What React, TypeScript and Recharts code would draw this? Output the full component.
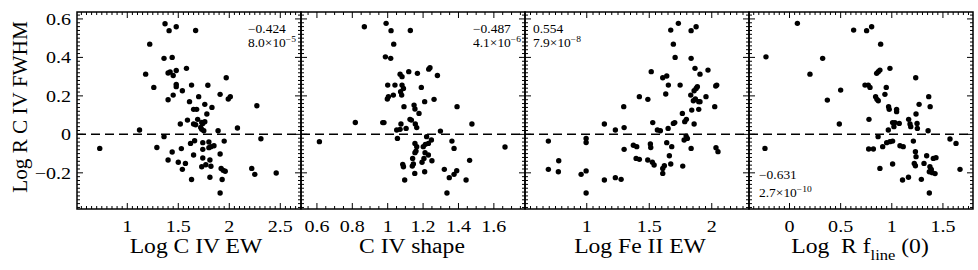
import { ScatterChart, Scatter, XAxis, YAxis, ReferenceLine, ReferenceArea } from 'recharts';

const FONT = '"Liberation Serif", "Times New Roman", serif';
const STRETCH = 1.18;

// shared y axis (Log R C IV FWHM)
const yMajor = [-0.2, 0, 0.2, 0.4, 0.6];
const yDomain: [number, number] = [-0.388, 0.636];

// x axis major ticks per panel
const ewTicks = [1, 1.5, 2, 2.5];
const shapeTicks = [0.6, 0.8, 1, 1.2, 1.4, 1.6];
const feTicks = [1, 1.5, 2];
const flineTicks = [0, 0.5, 1, 1.5];

// [x, log R C IV FWHM]
const ewPoints: [number, number][] = [
  [0.73, -0.073], [1.12, 0.023], [1.29, -0.068], [1.18, 0.313], [1.22, 0.469], [1.26, 0.244],
  [1.37, 0.575], [1.41, 0.539], [1.48, 0.559], [1.67, 0.54], [1.36, 0.395], [1.44, 0.4],
  [1.4, 0.319], [1.42, 0.324], [1.45, 0.306], [1.48, 0.332], [1.58, 0.343], [1.48, 0.26],
  [1.48, 0.248], [1.45, 0.204], [1.4, 0.18], [1.54, 0.227], [1.63, 0.256], [1.7, 0.196],
  [1.79, 0.255], [1.61, 0.17], [1.76, 0.156], [1.83, 0.14], [1.91, 0.208], [1.97, 0.294],
  [1.99, 0.184], [2.01, 0.196], [1.65, 0.13], [1.68, 0.13], [1.78, 0.106], [1.52, 0.054],
  [1.59, 0.074], [1.65, 0.054], [1.67, 0.05], [1.69, 0.078], [1.73, 0.062], [1.74, 0.057],
  [1.76, 0.066], [1.72, 0.036], [1.73, 0.026], [1.75, 0.019], [1.89, 0.019], [2.08, 0.033],
  [2.27, 0.149], [1.36, -0.012], [1.62, -0.047], [1.66, -0.033], [1.74, -0.043], [1.8, -0.04],
  [1.82, -0.064], [1.85, -0.059], [1.8, -0.069], [1.95, -0.035], [1.53, -0.074], [1.74, -0.078],
  [1.91, -0.102], [1.65, -0.107], [1.44, -0.092], [1.74, -0.123], [1.81, -0.133], [1.4, -0.133],
  [1.5, -0.145], [1.57, -0.151], [1.54, -0.182], [1.73, -0.168], [1.77, -0.158], [1.82, -0.166],
  [1.92, -0.177], [1.94, -0.187], [1.96, -0.192], [1.63, -0.235], [1.81, -0.223], [1.93, -0.235],
  [1.91, -0.305], [2.22, -0.177], [2.25, -0.208], [2.46, -0.201], [2.31, -0.023],
];

const shapePoints: [number, number][] = [
  [0.614, -0.038], [0.817, 0.062], [0.868, 0.559], [0.991, 0.577], [1.019, 0.539], [1.034, 0.469],
  [1.128, 0.54], [0.987, 0.403], [1.017, 0.395], [1.07, 0.313], [1.081, 0.3], [1.119, 0.326],
  [1.168, 0.317], [1.232, 0.339], [1.239, 0.346], [1.281, 0.306], [1.0, 0.256], [1.041, 0.256],
  [1.081, 0.256], [1.089, 0.239], [1.073, 0.222], [1.079, 0.204], [1.032, 0.204], [0.998, 0.184],
  [1.004, 0.196], [1.19, 0.244], [1.209, 0.17], [1.262, 0.182], [1.092, 0.144], [1.149, 0.152],
  [1.154, 0.132], [1.177, 0.109], [1.126, 0.078], [1.134, 0.074], [1.156, 0.054], [1.164, 0.035],
  [0.972, 0.061], [0.979, 0.061], [1.075, 0.054], [1.104, 0.031], [1.051, 0.023], [1.07, 0.026],
  [1.055, -0.021], [1.22, -0.012], [1.247, -0.029], [1.298, 0.017], [1.154, -0.047], [1.164, -0.064],
  [1.201, -0.064], [1.213, -0.052], [1.23, -0.047], [1.16, -0.087], [1.154, -0.095], [1.211, -0.095],
  [1.141, -0.125], [1.205, -0.125], [1.194, -0.145], [1.23, -0.107], [1.25, -0.137], [1.085, -0.156],
  [1.089, -0.168], [1.139, -0.165], [1.145, -0.154], [1.153, -0.203], [1.209, -0.194], [1.096, -0.237],
  [1.32, -0.182], [1.348, -0.225], [1.375, -0.208], [1.39, -0.189], [1.443, -0.237], [1.335, -0.305],
  [1.363, -0.035], [1.375, -0.073], [1.463, -0.135], [1.392, 0.144], [1.476, 0.054], [1.663, -0.066],
];

const fePoints: [number, number][] = [
  [0.693, -0.035], [0.693, -0.182], [0.776, -0.137], [0.773, -0.194], [0.955, -0.208], [0.995, -0.19],
  [0.995, -0.305], [0.995, -0.021], [0.995, -0.042], [1.141, 0.054], [1.141, -0.237], [1.229, 0.023],
  [1.229, -0.225], [1.275, -0.234], [1.296, 0.144], [1.299, 0.035], [1.299, -0.078], [1.373, -0.057],
  [1.4, -0.064], [1.395, -0.125], [1.421, 0.196], [1.516, 0.326], [1.489, 0.182], [1.528, 0.061],
  [1.509, -0.05], [1.512, -0.068], [1.488, -0.133], [1.525, -0.145], [1.539, -0.159], [1.565, 0.023],
  [1.589, 0.019], [1.421, -0.13], [1.608, -0.177], [1.608, -0.203], [1.621, -0.163], [1.64, -0.043],
  [1.651, 0.031], [1.661, -0.111], [1.672, -0.154], [1.68, -0.064], [1.693, 0.057], [1.704, 0.061],
  [1.608, 0.294], [1.64, 0.303], [1.653, 0.256], [1.632, 0.21], [1.672, 0.542], [1.733, 0.577],
  [1.693, 0.469], [1.707, 0.4], [1.747, 0.256], [1.765, 0.109], [1.784, 0.066], [1.768, -0.165],
  [1.795, -0.009], [1.805, -0.021], [1.779, -0.029], [1.835, -0.073], [1.797, 0.078], [1.859, 0.054],
  [1.835, 0.539], [1.875, 0.559], [1.835, 0.395], [1.866, 0.343], [1.906, 0.313], [1.97, 0.334],
  [1.832, 0.204], [1.859, 0.227], [1.875, 0.239], [1.885, 0.248], [1.853, 0.175], [1.869, 0.184],
  [1.896, 0.17], [1.906, 0.17], [1.84, 0.126], [1.896, 0.13], [1.954, 0.196], [2.032, 0.251],
  [2.04, 0.256], [2.024, 0.144], [2.034, -0.069], [2.05, -0.09],
];

const flinePoints: [number, number][] = [
  [-0.23, 0.403], [-0.24, -0.073], [0.077, 0.577], [0.324, 0.395], [0.2, 0.313], [0.37, 0.178],
  [0.5, 0.23], [0.487, 0.054], [0.627, 0.542], [0.754, 0.539], [0.803, 0.559], [0.891, 0.469],
  [0.852, 0.317], [0.868, 0.326], [0.884, 0.334], [0.982, 0.343], [0.738, 0.256], [0.77, 0.256],
  [0.787, 0.244], [0.842, 0.196], [0.855, 0.182], [0.868, 0.175], [0.933, 0.208], [0.946, 0.244],
  [0.969, 0.144], [0.975, 0.13], [1.047, 0.13], [0.777, 0.078], [0.966, 0.023], [1.008, 0.061],
  [1.031, 0.061], [1.073, 0.057], [1.021, 0.04], [1.165, 0.078], [1.178, 0.054], [1.185, 0.04],
  [1.237, 0.106], [1.247, 0.057], [1.25, 0.031], [1.234, 0.294], [1.267, 0.156], [1.361, 0.196],
  [1.375, 0.144], [1.355, 0.019], [0.866, -0.012], [0.95, -0.043], [0.982, -0.038], [1.008, -0.035],
  [1.08, -0.059], [1.112, -0.064], [0.774, -0.076], [0.82, -0.076], [0.911, -0.064], [0.884, -0.177],
  [1.008, -0.154], [1.211, -0.035], [1.231, -0.09], [1.237, -0.116], [1.22, -0.151], [1.231, -0.163],
  [1.315, -0.151], [1.341, -0.111], [1.406, -0.125], [1.432, -0.121], [1.373, -0.168], [1.386, -0.182],
  [1.396, -0.199], [1.423, -0.204], [1.367, -0.194], [1.289, -0.234], [1.105, -0.237], [1.163, -0.223],
  [1.367, -0.305], [1.569, -0.024], [1.628, -0.047], [1.667, -0.182], [1.047, 0.118],
];

// correlation coefficient and probability printed in each panel
const rhoValues = ['\u22120.424', '\u22120.487', '0.554', '\u22120.631'];
const probMantissa = ['8.0', '4.1', '7.9', '2.7'];
const probExponent = ['\u22125', '\u22126', '\u22128', '\u221210'];

const PLOT_TOP = 12;
const PLOT_BOTTOM = 209;
const CHART_H = 270;

const fmt = (v: number) => (v < 0 ? '\u2212' + String(Math.abs(v)) : String(v));

const minorTicks = (domain: [number, number], step: number) => {
  const out: number[] = [];
  const start = Math.ceil(domain[0] / step - 1e-9);
  const end = Math.floor(domain[1] / step + 1e-9);
  for (let k = start; k <= end; k++) out.push(Math.round(k * step * 1e6) / 1e6);
  return out;
};

const findMajor = (list: number[], v: number) => list.find((m) => Math.abs(m - v) < 1e-6);

interface PanelCfg {
  plotLeft: number;
  plotRight: number;
  domain: [number, number];
  major: number[];
  points: [number, number][];
  showY: boolean;
}

const panels: PanelCfg[] = [
  { plotLeft: 77, plotRight: 301, domain: [0.507, 2.703], major: ewTicks, points: ewPoints, showY: true },
  { plotLeft: 301, plotRight: 525, domain: [0.51, 1.776], major: shapeTicks, points: shapePoints, showY: false },
  { plotLeft: 525, plotRight: 749, domain: [0.506, 2.298], major: feTicks, points: fePoints, showY: false },
  { plotLeft: 749, plotRight: 973, domain: [-0.396, 1.794], major: flineTicks, points: flinePoints, showY: false },
];

const Dot = (props: any) => <circle cx={props.cx} cy={props.cy} r={2.7} fill="#000" />;

const Panel = ({ cfg }: { cfg: PanelCfg }) => {
  const yW = cfg.showY ? cfg.plotLeft : 2;
  const chartLeft = cfg.plotLeft - yW;
  const width = cfg.plotRight - chartLeft + 3;
  const localRight = cfg.plotRight - chartLeft;
  const data = cfg.points.map(([x, y]) => ({ x, y }));

  const XTick = (props: any) => {
    const { x, y, payload } = props;
    const m = findMajor(cfg.major, payload.value);
    const len = m !== undefined ? 6 : 3;
    return (
      <g>
        <line x1={x} x2={x} y1={y} y2={y - len} stroke="#000" strokeWidth={1} />
        <line x1={x} x2={x} y1={PLOT_TOP} y2={PLOT_TOP + len} stroke="#000" strokeWidth={1} />
        {m !== undefined && (
          <text
            transform={`translate(${x},${y + 23}) scale(${STRETCH},1)`}
            textAnchor="middle"
            fontSize={17}
            fontFamily={FONT}
            fill="#000"
          >
            {fmt(m)}
          </text>
        )}
      </g>
    );
  };

  const YTick = (props: any) => {
    const { x, y, payload } = props;
    const m = findMajor(yMajor, payload.value);
    const len = m !== undefined ? 6 : 3;
    return (
      <g>
        <line x1={x} x2={x + len} y1={y} y2={y} stroke="#000" strokeWidth={1} />
        <line x1={localRight} x2={localRight - len} y1={y} y2={y} stroke="#000" strokeWidth={1} />
        {cfg.showY && m !== undefined && (
          <text
            transform={`translate(${x - 6},${y + 6}) scale(${STRETCH},1)`}
            textAnchor="end"
            fontSize={17}
            fontFamily={FONT}
            fill="#000"
          >
            {fmt(m)}
          </text>
        )}
      </g>
    );
  };

  return (
    <div style={{ position: 'absolute', left: chartLeft, top: 0, zIndex: 1 }}>
      <ScatterChart width={width} height={CHART_H} margin={{ top: PLOT_TOP, right: 3, bottom: 0, left: 0 }}>
        <XAxis
          type="number"
          dataKey="x"
          domain={cfg.domain}
          allowDataOverflow
          ticks={minorTicks(cfg.domain, 0.05)}
          interval={0}
          height={CHART_H - PLOT_BOTTOM}
          axisLine={false}
          tickLine={false}
          tickSize={0}
          tickMargin={0}
          tick={(p: any) => <XTick {...p} />}
        />
        <YAxis
          type="number"
          dataKey="y"
          domain={yDomain}
          allowDataOverflow
          ticks={minorTicks(yDomain, 0.02)}
          interval={0}
          width={yW}
          axisLine={false}
          tickLine={false}
          tickSize={0}
          tickMargin={0}
          tick={(p: any) => <YTick {...p} />}
        />
        <ReferenceArea
          x1={cfg.domain[0]}
          x2={cfg.domain[1]}
          y1={yDomain[0]}
          y2={yDomain[1]}
          fill="none"
          fillOpacity={0}
          stroke="#000"
          strokeWidth={1.5}
          ifOverflow="visible"
        />
        <ReferenceLine y={0} stroke="#000" strokeWidth={1.5} strokeDasharray="9 5" />
        <Scatter data={data} shape={Dot} isAnimationActive={false} />
      </ScatterChart>
    </div>
  );
};

const Annot = ({ left, top1, top2, i }: { left: number; top1: number; top2: number; i: number }) => {
  const base: React.CSSProperties = {
    position: 'absolute',
    left,
    zIndex: 20,
    fontFamily: FONT,
    fontSize: 12,
    lineHeight: '14px',
    whiteSpace: 'nowrap',
    transform: 'scaleX(1.12)',
    transformOrigin: 'left top',
    color: '#000',
  };
  return (
    <>
      <div style={{ ...base, top: top1 }}>{rhoValues[i]}</div>
      <div style={{ ...base, top: top2 }}>
        {probMantissa[i]}×10
        <span style={{ fontSize: 8.5, position: 'relative', top: -5 }}>{probExponent[i]}</span>
      </div>
    </>
  );
};

const Title = ({ cx, children }: { cx: number; children: any }) => (
  <div
    style={{
      position: 'absolute',
      left: cx,
      top: 236,
      zIndex: 20,
      fontFamily: FONT,
      fontSize: 20,
      lineHeight: '20px',
      whiteSpace: 'nowrap',
      transform: `translateX(-50%) scaleX(${STRETCH})`,
      color: '#000',
    }}
  >
    {children}
  </div>
);

export default function App() {
  return (
    <div style={{ position: 'absolute', left: 0, top: 0, width: 978, height: 270, background: '#fff', overflow: 'hidden' }}>
      {panels.map((cfg, i) => (
        <Panel key={i} cfg={cfg} />
      ))}
      <div
        style={{
          position: 'absolute',
          left: 20,
          top: 107,
          zIndex: 20,
          fontFamily: FONT,
          fontSize: 20,
          lineHeight: '20px',
          whiteSpace: 'nowrap',
          transform: `translate(-50%,-50%) rotate(-90deg) scaleX(1.06)`,
          color: '#000',
        }}
      >
        Log R C IV FWHM
      </div>
      <Title cx={196}>Log C IV EW</Title>
      <Title cx={412}>C IV shape</Title>
      <Title cx={640}>Log Fe II EW</Title>
      <Title cx={860}>
        Log&nbsp; R f<span style={{ fontSize: 14, position: 'relative', top: 7 }}>line</span> (0)
      </Title>
      <Annot left={248} top1={22} top2={36} i={0} />
      <Annot left={473} top1={22} top2={36} i={1} />
      <Annot left={533} top1={22} top2={36} i={2} />
      <Annot left={759} top1={168} top2={186} i={3} />
    </div>
  );
}
